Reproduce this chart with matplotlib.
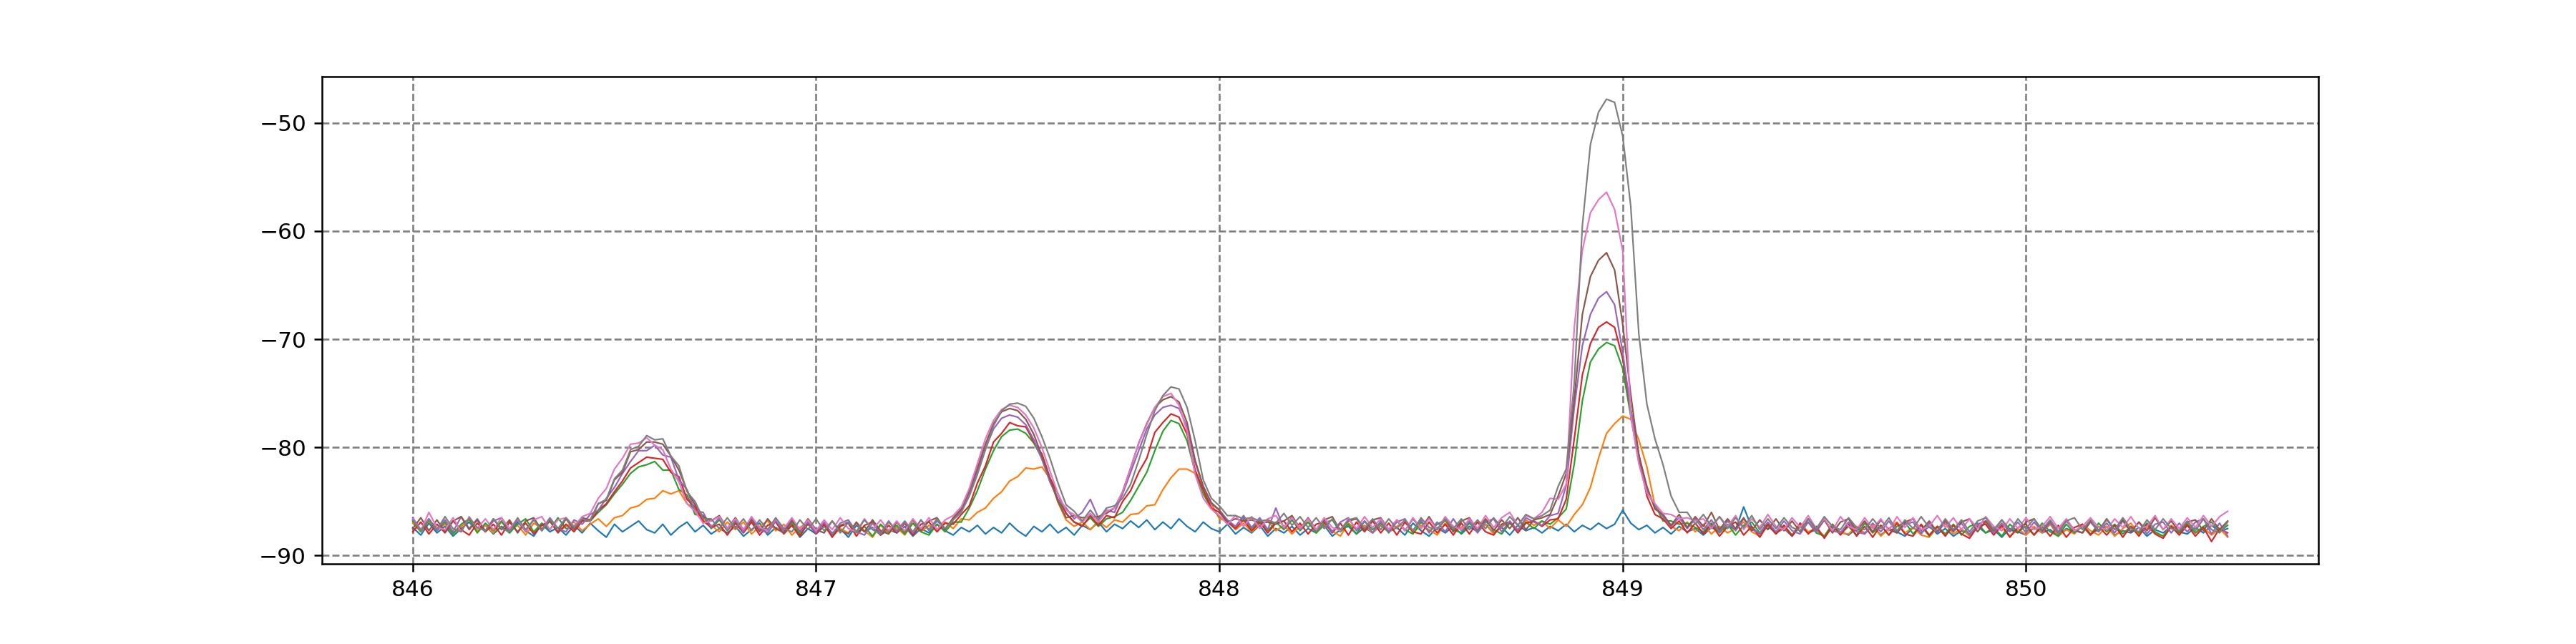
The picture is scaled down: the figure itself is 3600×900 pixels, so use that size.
import numpy as np
import matplotlib
matplotlib.use("Agg")
import matplotlib.pyplot as plt

# Frequency sampling of the sweep (MHz)
FREQ_START = 846.0
FREQ_STEP = 0.02

# Power readings (dB), one list per sweep, sampled every 0.02 MHz from 846.00 to 850.50
sweep_0 = [
    -87.4, -88.1, -87.0, -87.9, -87.3, -88.2, -87.5, -86.9, -87.8, -87.2,
    -88.0, -87.3, -87.9, -86.9, -87.7, -88.2, -87.1, -87.8, -87.4, -88.1,
    -87.2, -87.9, -87.0, -87.7, -88.3, -87.1, -87.8, -87.3, -86.8, -87.6,
    -87.9, -87.1, -88.1, -87.4, -86.9, -87.8, -87.2, -88.0, -87.5, -87.9,
    -87.3, -88.2, -87.6, -87.0, -88.1, -87.4, -87.9, -87.2, -88.3, -87.5,
    -88.0, -87.3, -87.9, -87.5, -88.3, -87.2, -87.8, -87.4, -88.1, -87.6,
    -87.9, -87.3, -88.2, -87.5, -87.9, -87.1, -87.7, -88.1, -87.4, -87.8,
    -87.2, -88.0, -87.4, -87.9, -87.0, -87.7, -88.2, -87.3, -87.8, -87.1,
    -87.9, -87.4, -88.1, -87.2, -87.6, -86.9, -87.8, -87.1, -87.5, -86.8,
    -87.4, -86.7, -87.6, -86.9, -87.5, -86.6, -87.3, -87.8, -86.9, -87.5,
    -87.8, -87.1, -88.0, -87.4, -87.9, -87.2, -88.2, -87.5, -87.9, -87.3,
    -88.1, -87.5, -87.9, -87.2, -88.2, -87.6, -87.3, -88.0, -87.4, -87.9,
    -87.2, -87.8, -87.4, -88.1, -87.0, -87.7, -88.2, -87.4, -87.9, -87.3,
    -88.0, -87.3, -87.8, -87.1, -87.9, -87.4, -88.1, -87.2, -87.7, -87.4,
    -87.9, -87.3, -87.7, -87.1, -87.8, -87.2, -87.6, -87.0, -87.5, -87.1,
    -85.8, -87.0, -87.6, -87.2, -87.9, -87.4, -88.0, -87.3, -87.8, -87.5,
    -88.1, -87.4, -87.8, -87.2, -87.6, -85.5, -87.4, -88.0, -87.3, -87.9,
    -87.5, -88.2, -87.3, -87.9, -87.6, -88.3, -87.4, -87.8, -88.1, -87.5,
    -87.9, -87.3, -88.1, -87.5, -87.8, -88.2, -87.4, -87.9, -87.3, -88.0,
    -87.5, -88.2, -87.7, -88.0, -87.3, -87.9, -87.6, -88.3, -87.5, -87.8,
    -88.1, -87.4, -87.9, -87.6, -88.2, -87.5, -87.8, -87.2, -88.0, -87.6,
    -87.3, -88.1, -87.7, -87.9, -87.4, -88.2, -87.6, -87.9, -87.3, -87.8,
    -88.0, -87.4, -87.9, -87.2, -87.8, -87.5,
]

sweep_1 = [
    -87.0, -87.8, -86.8, -87.6, -87.1, -88.0, -87.3, -86.7, -87.7, -87.2,
    -87.9, -86.9, -87.6, -87.2, -88.1, -87.0, -87.5, -86.8, -87.8, -87.3,
    -86.9, -87.7, -87.1, -86.6, -87.3, -86.5, -86.3, -85.6, -85.4, -84.8,
    -84.7, -84.0, -84.3, -84.0, -85.2, -85.7, -86.7, -87.2, -87.8, -86.9,
    -87.6, -86.9, -88.0, -87.3, -86.8, -87.7, -87.1, -88.1, -87.4, -86.9,
    -87.8, -87.2, -88.2, -87.5, -87.9, -87.0, -87.7, -88.3, -87.2, -87.9,
    -87.4, -88.1, -87.0, -87.8, -87.2, -87.7, -86.9, -87.5, -86.6, -86.7,
    -86.0, -85.6, -84.7, -84.1, -83.1, -82.7, -81.9, -82.0, -81.8, -82.9,
    -85.1, -86.7, -87.3, -86.9, -87.6, -86.8, -87.4, -86.7, -86.9, -86.2,
    -86.1, -85.4, -85.3, -83.9, -82.8, -82.0, -82.0, -82.4, -84.3, -85.2,
    -86.6, -86.8, -87.6, -87.0, -87.8, -87.1, -86.8, -87.7, -87.2, -88.0,
    -87.3, -86.9, -87.9, -87.1, -87.7, -88.2, -87.0, -87.6, -87.2, -87.9,
    -87.1, -87.8, -87.3, -86.8, -87.9, -87.2, -87.6, -88.1, -87.0, -87.7,
    -87.4, -86.8, -87.7, -87.1, -88.0, -87.3, -86.9, -87.6, -86.7, -87.2,
    -86.8, -87.5, -86.7, -87.3, -86.2, -85.3, -83.7, -81.0, -78.7, -77.8,
    -77.1, -77.4, -79.3, -81.8, -85.4, -86.3, -87.3, -87.7, -86.9, -87.8,
    -87.1, -88.0, -87.3, -87.9, -87.5, -86.9, -87.8, -88.2, -87.2, -87.9,
    -87.4, -88.1, -87.0, -87.8, -87.5, -88.2, -87.1, -87.9, -88.0, -87.3,
    -88.0, -87.2, -88.2, -87.5, -86.9, -87.9, -87.4, -88.1, -88.3, -87.4,
    -87.1, -88.0, -87.5, -88.2, -87.3, -87.0, -87.9, -87.4, -88.2, -87.5,
    -88.1, -87.3, -87.9, -87.1, -88.2, -87.6, -88.0, -87.1, -87.7, -88.1,
    -87.3, -88.2, -87.5, -87.0, -88.0, -87.4, -87.9, -88.2, -87.2, -87.7,
    -87.0, -87.9, -87.4, -88.1, -87.5, -88.3,
]

sweep_2 = [
    -86.8, -87.8, -86.7, -87.7, -86.9, -88.0, -87.1, -86.6, -87.9, -87.0,
    -87.7, -86.8, -87.9, -87.1, -86.6, -87.8, -87.0, -87.6, -86.5, -87.5,
    -87.4, -86.7, -86.8, -86.0, -85.3, -84.3, -83.4, -82.4, -81.8, -81.6,
    -81.3, -82.1, -82.1, -83.9, -84.4, -86.2, -86.3, -87.5, -86.7, -87.7,
    -86.8, -87.8, -86.6, -87.5, -87.9, -86.8, -87.7, -87.0, -88.0, -87.1,
    -87.9, -87.0, -88.1, -87.2, -86.9, -87.9, -87.3, -88.2, -87.1, -87.8,
    -87.2, -88.0, -87.0, -87.8, -88.1, -87.1, -87.8, -86.9, -86.9, -85.6,
    -84.0, -82.0, -80.3, -79.0, -78.4, -78.3, -78.7, -79.6, -81.0, -82.9,
    -84.8, -86.1, -86.9, -87.2, -86.5, -87.3, -86.6, -86.4, -86.0, -84.9,
    -83.6, -82.3, -80.3, -78.5, -77.5, -77.8, -79.4, -82.3, -84.3, -85.6,
    -86.4, -86.9, -87.3, -86.4, -87.5, -86.7, -87.7, -86.9, -87.6, -86.7,
    -87.7, -86.9, -87.9, -87.0, -86.7, -87.8, -87.1, -88.0, -86.8, -87.6,
    -87.0, -87.9, -86.8, -87.6, -88.0, -86.9, -87.8, -87.1, -86.7, -87.6,
    -87.9, -87.0, -87.8, -86.8, -87.6, -88.0, -87.0, -87.7, -86.9, -87.5,
    -86.8, -87.1, -86.5, -85.7, -81.5, -75.7, -72.1, -70.9, -70.3, -70.6,
    -72.7, -77.1, -81.3, -84.2, -85.3, -86.8, -86.8, -87.1, -87.0, -87.4,
    -87.8, -87.0, -87.9, -87.1, -88.1, -87.2, -86.9, -87.9, -87.1, -88.0,
    -87.2, -88.1, -87.3, -86.9, -87.9, -88.2, -87.1, -88.0, -87.3, -88.1,
    -87.0, -87.9, -87.2, -88.1, -87.3, -86.9, -88.0, -87.2, -88.2, -87.3,
    -88.0, -87.1, -88.1, -87.3, -87.0, -87.9, -87.4, -88.2, -87.1, -87.8,
    -87.3, -88.1, -87.0, -87.8, -88.2, -87.1, -87.9, -87.3, -88.1, -87.0,
    -87.8, -87.1, -88.0, -87.3, -87.9, -87.0, -87.8, -88.2, -87.3, -87.9,
    -87.1, -87.9, -87.3, -86.9, -87.8, -87.2,
]

sweep_3 = [
    -87.8, -86.9, -88.0, -87.1, -87.9, -86.8, -87.6, -88.1, -87.0, -87.8,
    -87.1, -88.1, -86.9, -87.8, -87.0, -88.0, -87.2, -86.8, -87.9, -87.1,
    -87.8, -86.8, -86.8, -85.8, -85.2, -84.1, -83.1, -81.9, -81.4, -80.9,
    -81.0, -81.1, -82.3, -82.7, -84.8, -85.5, -86.8, -87.4, -87.1, -88.1,
    -87.0, -87.9, -86.9, -88.1, -87.2, -86.9, -88.0, -87.2, -88.2, -87.0,
    -88.0, -87.1, -88.3, -87.3, -87.0, -88.2, -87.2, -86.9, -88.1, -87.2,
    -87.9, -87.0, -88.1, -87.1, -86.9, -87.8, -87.0, -87.1, -86.2, -85.4,
    -83.3, -81.7, -79.5, -78.7, -77.7, -78.0, -78.1, -79.5, -80.6, -82.8,
    -84.3, -86.1, -86.9, -87.3, -86.3, -87.2, -86.3, -86.5, -85.0, -84.0,
    -82.3, -81.0, -78.6, -77.7, -76.9, -77.2, -78.8, -82.1, -83.9, -85.6,
    -86.0, -86.9, -87.5, -86.7, -87.7, -86.9, -87.9, -87.0, -86.8, -87.8,
    -87.0, -88.0, -87.1, -86.9, -87.9, -87.0, -88.1, -86.9, -87.8, -86.8,
    -87.9, -87.0, -88.1, -86.9, -87.8, -88.0, -86.9, -87.9, -87.1, -88.1,
    -87.0, -88.0, -86.9, -87.8, -88.1, -87.1, -86.9, -87.9, -87.0, -86.8,
    -87.3, -86.7, -86.6, -84.8, -79.2, -73.3, -70.4, -68.9, -68.4, -68.9,
    -71.8, -76.5, -80.7, -84.5, -86.2, -86.6, -87.5, -86.8, -87.9, -87.0,
    -88.0, -87.1, -88.2, -87.3, -86.9, -88.1, -87.3, -88.3, -87.1, -88.0,
    -87.2, -88.2, -87.0, -88.0, -87.3, -88.4, -87.2, -88.1, -87.1, -88.2,
    -87.3, -88.3, -87.2, -88.1, -87.0, -88.0, -88.2, -87.1, -88.1, -87.3,
    -88.2, -87.2, -88.0, -88.4, -87.3, -87.1, -88.1, -87.2, -88.3, -87.4,
    -87.1, -88.1, -87.3, -88.2, -87.2, -88.3, -87.4, -87.1, -88.1, -87.3,
    -88.1, -87.2, -88.3, -87.3, -88.2, -87.1, -88.0, -88.4, -87.3, -88.1,
    -87.2, -88.2, -87.4, -88.7, -87.5, -87.9,
]

sweep_4 = [
    -86.5, -87.6, -86.6, -87.7, -86.7, -87.8, -86.4, -87.5, -86.6, -87.7,
    -86.8, -86.5, -87.7, -86.7, -87.8, -86.6, -87.6, -86.5, -87.5, -87.8,
    -86.7, -87.1, -86.2, -85.8, -84.7, -83.7, -82.4, -81.3, -80.3, -80.3,
    -79.8, -80.7, -80.9, -83.0, -83.9, -85.9, -86.0, -87.4, -86.5, -87.6,
    -86.7, -87.8, -86.6, -87.6, -87.9, -86.8, -87.7, -86.6, -87.8, -86.9,
    -87.9, -86.9, -88.0, -87.0, -86.7, -87.8, -88.1, -87.0, -87.9, -86.8,
    -87.8, -86.9, -87.9, -86.7, -87.7, -86.8, -87.5, -86.6, -85.8, -84.2,
    -82.2, -80.1, -78.3, -77.3, -77.0, -77.2, -77.9, -79.3, -81.1, -83.2,
    -84.8, -85.6, -86.6, -86.0, -84.8, -86.5, -85.8, -86.0, -84.3, -82.3,
    -80.3, -78.3, -77.0, -76.3, -76.1, -76.4, -78.1, -81.4, -83.6, -85.2,
    -85.8, -86.7, -87.3, -86.3, -87.4, -86.5, -87.6, -85.6, -87.5, -86.4,
    -87.6, -86.6, -87.7, -86.7, -87.8, -86.9, -86.5, -87.7, -86.8, -87.9,
    -86.8, -87.8, -86.9, -86.6, -87.7, -86.7, -87.9, -86.9, -87.8, -86.6,
    -87.7, -86.8, -87.9, -86.9, -86.6, -87.8, -86.8, -87.7, -86.5, -86.9,
    -87.2, -86.3, -86.1, -83.5, -76.3, -70.6, -67.7, -66.2, -65.6, -66.8,
    -71.2, -76.5, -80.7, -83.9, -85.5, -86.4, -87.3, -86.5, -87.5, -86.6,
    -87.6, -86.7, -87.8, -86.8, -87.7, -86.6, -87.6, -87.9, -86.9, -87.8,
    -86.8, -87.7, -88.0, -86.9, -87.8, -86.7, -87.7, -87.9, -86.9, -87.8,
    -88.0, -87.0, -87.8, -86.8, -87.9, -87.1, -86.9, -88.0, -87.0, -87.9,
    -86.9, -87.8, -87.0, -88.1, -87.1, -86.8, -87.9, -87.0, -87.8, -86.9,
    -87.9, -86.9, -87.8, -87.0, -88.0, -86.8, -87.7, -87.9, -86.9, -87.8,
    -87.0, -87.9, -86.8, -87.8, -86.9, -88.0, -87.1, -86.9, -87.9, -87.0,
    -87.8, -86.9, -86.6, -88.0, -87.0, -88.2,
]

sweep_5 = [
    -87.5, -86.5, -87.7, -86.7, -87.8, -86.8, -86.4, -87.6, -86.7, -87.8,
    -86.6, -87.6, -86.7, -87.9, -86.8, -86.5, -87.7, -86.8, -87.8, -86.6,
    -87.6, -86.5, -86.7, -85.2, -84.9, -83.0, -82.3, -80.4, -80.2, -79.5,
    -79.5, -79.7, -80.8, -82.1, -84.0, -85.3, -86.4, -86.8, -86.3, -87.5,
    -86.5, -87.6, -86.7, -87.8, -86.6, -87.5, -87.9, -86.8, -87.7, -86.6,
    -87.6, -87.9, -86.8, -87.7, -88.0, -86.9, -87.8, -86.7, -87.7, -88.0,
    -86.9, -87.8, -86.7, -87.7, -86.8, -86.5, -87.6, -86.5, -85.7, -84.0,
    -81.9, -79.7, -77.8, -76.7, -76.4, -76.6, -77.4, -78.8, -80.8, -82.9,
    -85.0, -86.5, -86.3, -86.5, -86.4, -86.4, -86.1, -85.6, -84.1, -81.9,
    -79.6, -77.8, -76.3, -75.6, -75.3, -75.8, -77.7, -81.2, -83.6, -85.1,
    -85.8, -86.9, -86.6, -86.8, -86.7, -87.0, -86.9, -87.1, -86.8, -86.3,
    -87.5, -86.5, -87.6, -86.7, -86.4, -87.7, -86.8, -86.6, -87.6, -86.7,
    -86.5, -87.6, -86.7, -87.7, -86.6, -87.5, -86.4, -87.6, -86.7, -87.8,
    -86.8, -86.5, -87.6, -86.6, -87.7, -86.7, -87.5, -86.5, -87.6, -86.7,
    -86.5, -86.2, -84.5, -82.4, -75.5, -67.7, -64.2, -62.7, -62.0, -63.6,
    -68.6, -75.1, -80.7, -83.6, -85.7, -86.2, -87.2, -86.2, -87.4, -86.4,
    -87.3, -86.0, -87.6, -86.6, -87.5, -86.5, -87.7, -86.7, -87.6, -86.6,
    -87.7, -86.8, -87.8, -86.6, -87.6, -86.7, -87.9, -86.9, -86.6, -87.7,
    -86.8, -87.8, -86.7, -87.6, -87.9, -86.9, -86.6, -87.7, -86.8, -87.8,
    -86.7, -87.7, -86.9, -86.6, -87.8, -86.8, -87.7, -86.7, -87.6, -87.9,
    -86.9, -86.6, -87.7, -86.8, -87.8, -86.7, -87.6, -87.9, -86.8, -87.7,
    -86.6, -87.6, -86.7, -87.8, -86.9, -87.7, -86.5, -87.6, -86.8, -87.8,
    -86.9, -86.7, -87.7, -86.6, -87.6, -86.8,
]

sweep_6 = [
    -86.6, -87.7, -86.0, -87.4, -87.6, -86.5, -87.8, -86.4, -87.5, -86.6,
    -87.6, -86.5, -87.5, -86.6, -87.7, -86.7, -86.4, -87.6, -86.7, -86.5,
    -87.3, -86.4, -86.1, -84.7, -83.8, -82.0, -81.0, -79.7, -79.6, -79.1,
    -79.8, -80.2, -82.0, -83.2, -85.2, -85.9, -87.0, -86.8, -86.4, -87.5,
    -86.6, -87.6, -86.4, -87.4, -87.7, -86.6, -87.5, -86.5, -87.6, -86.7,
    -87.7, -86.7, -87.6, -86.5, -87.5, -87.8, -86.6, -87.6, -86.7, -87.7,
    -86.8, -87.7, -86.6, -87.5, -86.5, -87.6, -86.7, -86.3, -85.5, -83.8,
    -81.5, -79.2, -77.5, -76.5, -76.1, -76.3, -77.0, -78.2, -80.0, -82.2,
    -84.3, -85.8, -86.2, -86.9, -86.1, -86.9, -85.9, -85.6, -84.1, -81.9,
    -79.6, -77.9, -76.3, -75.3, -75.0, -76.1, -78.5, -82.5, -84.7, -85.7,
    -86.3, -87.1, -86.3, -87.3, -86.4, -87.5, -86.6, -86.3, -87.4, -86.5,
    -87.5, -86.6, -87.6, -86.5, -87.4, -87.7, -86.6, -87.5, -86.4, -87.4,
    -86.6, -87.6, -86.7, -87.7, -86.5, -87.5, -86.6, -87.6, -86.4, -87.3,
    -87.6, -86.6, -87.5, -86.3, -87.4, -86.5, -86.0, -87.2, -86.3, -86.6,
    -86.0, -84.7, -84.8, -83.4, -68.9, -61.8, -58.3, -57.1, -56.4, -58.0,
    -61.8, -77.1, -81.5, -84.2, -85.2, -86.1, -86.2, -86.6, -86.5, -86.8,
    -86.6, -87.5, -86.4, -87.3, -86.3, -87.6, -86.6, -87.4, -86.2, -87.3,
    -87.6, -86.5, -87.4, -86.3, -87.5, -86.6, -87.7, -86.4, -87.3, -87.6,
    -86.5, -87.5, -86.6, -87.7, -86.4, -87.4, -86.5, -87.6, -87.3, -86.3,
    -87.4, -86.5, -87.6, -86.6, -87.5, -86.4, -87.3, -87.7, -86.6, -87.5,
    -86.5, -87.6, -87.3, -86.4, -87.5, -86.6, -87.7, -87.3, -86.5, -87.4,
    -87.6, -86.6, -87.4, -86.4, -87.5, -87.3, -86.3, -87.6, -86.6, -87.5,
    -86.5, -87.4, -86.3, -87.3, -86.4, -85.9,
]

sweep_7 = [
    -86.7, -87.7, -86.6, -87.6, -86.4, -87.5, -87.8, -86.5, -87.4, -87.7,
    -86.6, -87.5, -87.8, -86.5, -87.6, -86.7, -87.7, -86.6, -87.5, -86.5,
    -87.4, -86.6, -86.8, -85.2, -84.8, -82.9, -82.1, -80.2, -79.9, -78.9,
    -79.3, -79.2, -80.8, -81.7, -84.1, -85.0, -86.6, -86.6, -87.5, -86.5,
    -87.5, -86.6, -87.7, -86.7, -87.6, -86.5, -87.5, -87.8, -86.7, -87.6,
    -86.6, -87.7, -86.8, -87.9, -86.9, -87.8, -86.7, -87.6, -88.0, -86.9,
    -87.7, -86.8, -87.8, -86.7, -87.6, -86.6, -87.5, -86.7, -86.0, -84.5,
    -82.5, -80.2, -78.0, -76.6, -76.0, -75.9, -76.2, -77.3, -79.0, -81.0,
    -83.3, -85.3, -85.9, -86.8, -85.8, -86.7, -85.6, -85.4, -84.7, -83.4,
    -81.2, -78.8, -76.6, -75.2, -74.4, -74.6, -76.3, -79.4, -83.0, -84.7,
    -85.4, -86.3, -86.3, -86.6, -86.5, -86.8, -86.7, -87.0, -86.1, -87.2,
    -86.4, -87.4, -86.5, -87.5, -86.6, -87.6, -86.7, -86.5, -87.5, -86.6,
    -87.6, -86.6, -87.5, -86.7, -87.7, -86.5, -87.4, -87.6, -86.6, -87.5,
    -86.6, -87.6, -86.7, -87.5, -86.5, -87.4, -86.4, -87.2, -86.2, -86.6,
    -86.3, -85.8, -83.6, -82.0, -74.0, -59.5, -52.0, -49.0, -47.8, -48.1,
    -51.2, -57.7, -69.5, -76.0, -79.2, -81.6, -84.5, -86.0, -86.0, -87.1,
    -86.2, -87.3, -86.4, -87.5, -86.5, -87.4, -86.3, -87.6, -86.6, -87.5,
    -86.5, -87.4, -87.7, -86.6, -87.5, -86.4, -87.3, -87.6, -86.5, -87.4,
    -87.6, -86.6, -87.5, -86.5, -87.7, -86.7, -87.5, -86.4, -87.4, -87.7,
    -86.6, -87.6, -86.7, -87.8, -86.8, -86.5, -87.6, -86.7, -87.7, -86.6,
    -87.5, -86.6, -87.6, -86.7, -87.8, -86.8, -86.5, -87.6, -86.7, -87.7,
    -86.7, -87.6, -86.5, -87.5, -87.8, -86.7, -87.6, -86.6, -87.5, -87.7,
    -86.8, -87.7, -86.6, -87.6, -87.9, -86.9,
]

sweeps = [sweep_0, sweep_1, sweep_2, sweep_3, sweep_4, sweep_5, sweep_6, sweep_7]
colors = ["C0", "C1", "C2", "C3", "C4", "C5", "C6", "C7"]

x_ticks = [846, 847, 848, 849, 850]
y_ticks = [-90, -80, -70, -60, -50]

fig, ax = plt.subplots(figsize=(16, 4), dpi=225)
fig.subplots_adjust(left=0.125, right=0.9, bottom=0.124, top=0.881)
for values, color in zip(sweeps, colors):
    y = np.asarray(values, dtype=float)
    x = FREQ_START + FREQ_STEP * np.arange(len(y))
    ax.plot(x, y, color=color, linewidth=0.7)

ax.set_xticks(x_ticks)
ax.set_yticks(y_ticks)
ax.set_xlim(845.775, 850.725)
ax.set_ylim(-90.79, -45.72)
ax.grid(True, color="gray", linestyle="--", linewidth=0.85)

fig.savefig("out.png", dpi=225)
